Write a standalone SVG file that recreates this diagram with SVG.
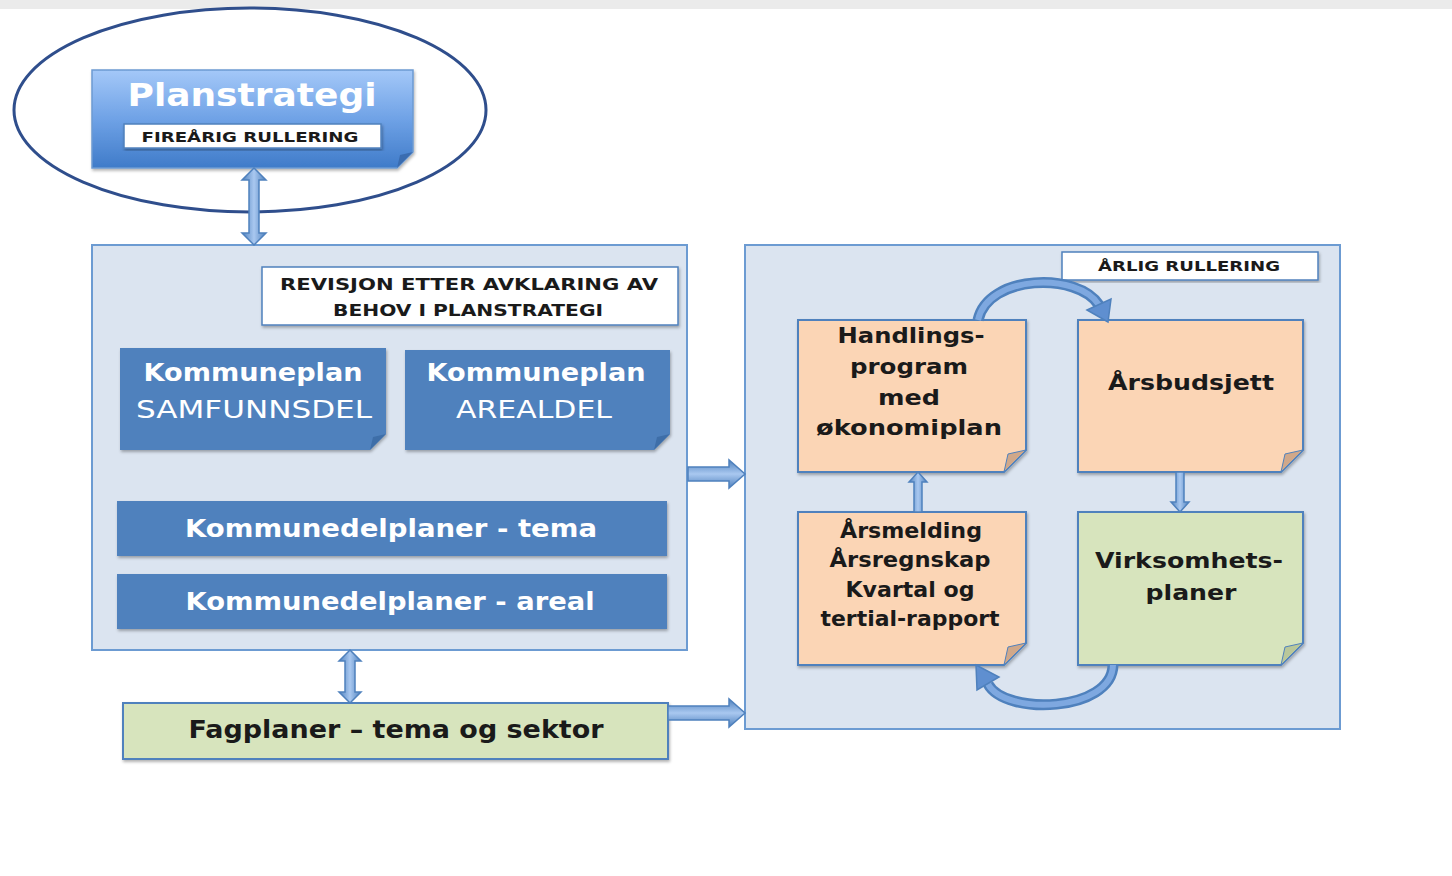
<svg xmlns="http://www.w3.org/2000/svg" width="1452" height="876" viewBox="0 0 1452 876">
<defs>
<linearGradient id="gPlan" x1="0" y1="0" x2="0" y2="1">
<stop offset="0" stop-color="#a4c8f8"/><stop offset="0.5" stop-color="#6fa2e6"/><stop offset="1" stop-color="#3f7bc9"/>
</linearGradient>
<linearGradient id="gArrV" x1="0" y1="0" x2="1" y2="0">
<stop offset="0" stop-color="#4f81bd"/><stop offset="0.5" stop-color="#a9c8f0"/><stop offset="1" stop-color="#4f81bd"/>
</linearGradient>
<linearGradient id="gArrH" x1="0" y1="0" x2="0" y2="1">
<stop offset="0" stop-color="#4f81bd"/><stop offset="0.5" stop-color="#a9c8f0"/><stop offset="1" stop-color="#4f81bd"/>
</linearGradient>
<filter id="sh" x="-5%" y="-5%" width="110%" height="115%">
<feDropShadow dx="1" dy="2" stdDeviation="1.5" flood-color="#000" flood-opacity="0.3"/>
</filter>
</defs>
<style>
.t{font-family:"DejaVu Sans","Liberation Sans",sans-serif;font-weight:bold;text-anchor:middle}
.w{fill:#ffffff}
.k{fill:#1a1a1a}
.cont{fill:#dbe4f0;stroke:#6c9bd2;stroke-width:2}
.lbl{fill:#ffffff;stroke:#4f81bd;stroke-width:1.5}
.blue{fill:#4f81bd}
.peach{fill:#fbd5b5;stroke:#4f81bd;stroke-width:2}
.green{fill:#d7e4bd;stroke:#4f81bd;stroke-width:2}
.fold{fill:#d0a88a;stroke:#4f81bd;stroke-width:1}
.foldg{fill:#b9c79a;stroke:#4f81bd;stroke-width:1}
.foldb{fill:#3e6ea8}
.arr{stroke:#4f81bd;stroke-width:1.5}
.arc{fill:none;stroke:#4f81bd;stroke-width:11}
.arcin{fill:none;stroke:#7ea8e0;stroke-width:6}
</style>
<rect x="0" y="0" width="1452" height="876" fill="#ffffff"/>
<rect x="0" y="0" width="1452" height="9" fill="#ebebeb"/>

<g id="planstrategi">
<path d="M92 70 H413 V152 L397 168 H92 Z" fill="url(#gPlan)" stroke="#6c9bd2" stroke-width="1.5" filter="url(#sh)"/>
<path d="M397 168 L400 155 L413 152 Z" fill="#3a6cb0"/>
<text class="t w" x="252" y="106" font-size="32" textLength="249" lengthAdjust="spacingAndGlyphs">Planstrategi</text>
<rect x="124" y="124" width="257" height="24" fill="#ffffff" stroke="#4f81bd" stroke-width="1.5" filter="url(#sh)"/>
<text class="t k" x="250" y="142" font-size="14" textLength="217" lengthAdjust="spacingAndGlyphs">FIREÅRIG RULLERING</text>
</g>
<ellipse id="ring" cx="250" cy="110" rx="236" ry="102" fill="none" stroke="#2f4e8c" stroke-width="3"/>

<g id="kommuneplan">
<rect class="cont" x="92" y="245" width="595" height="405"/>
<rect class="lbl" x="262" y="267" width="416" height="58" filter="url(#sh)"/>
<text class="t k" x="469" y="290" font-size="16" textLength="378" lengthAdjust="spacingAndGlyphs">REVISJON  ETTER  AVKLARING  AV</text>
<text class="t k" x="468" y="316" font-size="16" textLength="270" lengthAdjust="spacingAndGlyphs">BEHOV  I PLANSTRATEGI</text>
<g id="samfunnsdel">
<path class="blue" d="M120 348 H386 V434 L370 450 H120 Z" filter="url(#sh)"/>
<path class="foldb" d="M370 450 L373 437 L386 434 Z"/>
<text class="t w" x="253" y="381" font-size="24" textLength="219" lengthAdjust="spacingAndGlyphs">Kommuneplan</text>
<text class="t w" x="254" y="418" font-size="24" style="font-weight:normal" textLength="236" lengthAdjust="spacingAndGlyphs">SAMFUNNSDEL</text>
</g>
<g id="arealdel">
<path class="blue" d="M405 350 H670 V434 L654 450 H405 Z" filter="url(#sh)"/>
<path class="foldb" d="M654 450 L657 437 L670 434 Z"/>
<text class="t w" x="536" y="381" font-size="24" textLength="219" lengthAdjust="spacingAndGlyphs">Kommuneplan</text>
<text class="t w" x="534" y="418" font-size="24" style="font-weight:normal" textLength="156" lengthAdjust="spacingAndGlyphs">AREALDEL</text>
</g>
<g id="kdp-tema">
<rect class="blue" x="117" y="501" width="550" height="55" filter="url(#sh)"/>
<text class="t w" x="391" y="537" font-size="24" textLength="412" lengthAdjust="spacingAndGlyphs">Kommunedelplaner  -  tema</text>
</g>
<g id="kdp-areal">
<rect class="blue" x="117" y="574" width="550" height="55" filter="url(#sh)"/>
<text class="t w" x="390" y="610" font-size="24" textLength="409" lengthAdjust="spacingAndGlyphs">Kommunedelplaner  -  areal</text>
</g>
</g>

<g id="fagplaner">
<rect class="green" x="123" y="703" width="545" height="56" filter="url(#sh)"/>
<text class="t k" x="396" y="738" font-size="24" textLength="415" lengthAdjust="spacingAndGlyphs">Fagplaner – tema og sektor</text>
</g>

<g id="arlig">
<rect class="cont" x="745" y="245" width="595" height="484"/>
<rect class="lbl" x="1062" y="252" width="256" height="28" filter="url(#sh)"/>
<text class="t k" x="1189" y="271" font-size="14" textLength="182" lengthAdjust="spacingAndGlyphs">ÅRLIG RULLERING</text>
<g id="handlingsprogram">
<path class="peach" d="M798 320 H1026 V450 L1004 472 H798 Z" filter="url(#sh)"/>
<path class="fold" d="M1004 472 L1008 454 L1026 450 Z"/>
<text class="t k" x="911" y="343" font-size="21" textLength="147" lengthAdjust="spacingAndGlyphs">Handlings-</text>
<text class="t k" x="909" y="374" font-size="21" textLength="118" lengthAdjust="spacingAndGlyphs">program</text>
<text class="t k" x="909" y="405" font-size="21" textLength="62" lengthAdjust="spacingAndGlyphs">med</text>
<text class="t k" x="909" y="435" font-size="21" textLength="186" lengthAdjust="spacingAndGlyphs">økonomiplan</text>
</g>
<g id="arsbudsjett">
<path class="peach" d="M1078 320 H1303 V450 L1281 472 H1078 Z" filter="url(#sh)"/>
<path class="fold" d="M1281 472 L1285 454 L1303 450 Z"/>
<text class="t k" x="1191" y="390" font-size="21" textLength="166" lengthAdjust="spacingAndGlyphs">Årsbudsjett</text>
</g>
<g id="arsmelding">
<path class="peach" d="M798 512 H1026 V643 L1004 665 H798 Z" filter="url(#sh)"/>
<path class="fold" d="M1004 665 L1008 647 L1026 643 Z"/>
<text class="t k" x="911" y="538" font-size="21" textLength="142" lengthAdjust="spacingAndGlyphs">Årsmelding</text>
<text class="t k" x="910" y="567" font-size="21" textLength="161" lengthAdjust="spacingAndGlyphs">Årsregnskap</text>
<text class="t k" x="910" y="597" font-size="21" textLength="129" lengthAdjust="spacingAndGlyphs">Kvartal og</text>
<text class="t k" x="910" y="626" font-size="21" textLength="179" lengthAdjust="spacingAndGlyphs">tertial-rapport</text>
</g>
<g id="virksomhetsplaner">
<path class="green" d="M1078 512 H1303 V643 L1281 665 H1078 Z" filter="url(#sh)"/>
<path class="foldg" d="M1281 665 L1285 647 L1303 643 Z"/>
<text class="t k" x="1189" y="568" font-size="21" textLength="188" lengthAdjust="spacingAndGlyphs">Virksomhets-</text>
<text class="t k" x="1191" y="600" font-size="21" textLength="91" lengthAdjust="spacingAndGlyphs">planer</text>
</g>
</g>

<g id="connectors">
<polygon class="arr" fill="url(#gArrV)" points="254,168 266,180 259,180 259,233 266,233 254,245 242,233 249,233 249,180 242,180"/>
<polygon class="arr" fill="url(#gArrV)" points="350,650 361,661 355,661 355,692 361,692 350,703 339,692 345,692 345,661 339,661"/>
<polygon class="arr" fill="url(#gArrH)" points="688,467 729,467 729,460 745,474 729,488 729,481 688,481"/>
<polygon class="arr" fill="url(#gArrH)" points="668,706 729,706 729,699 745,713 729,727 729,720 668,720"/>
<polygon class="arr" fill="url(#gArrV)" points="918,472 927,482 922,482 922,512 914,512 914,482 909,482"/>
<polygon class="arr" fill="url(#gArrV)" points="1176,472 1184,472 1184,502 1189,502 1180,512 1171,502 1176,502"/>
<path class="arc" d="M978 320 C988 274, 1078 272, 1099 305"/>
<path class="arcin" d="M978 320 C988 274, 1078 272, 1099 305"/>
<polygon class="arr" fill="#5f8fd0" points="1087,310 1111,299 1108,322"/>
<path class="arc" d="M1113 665 C1112 712, 1005 716, 988 684"/>
<path class="arcin" d="M1113 665 C1112 712, 1005 716, 988 684"/>
<polygon class="arr" fill="#5f8fd0" points="976,665 999,677 977,690"/>
</g>
</svg>
